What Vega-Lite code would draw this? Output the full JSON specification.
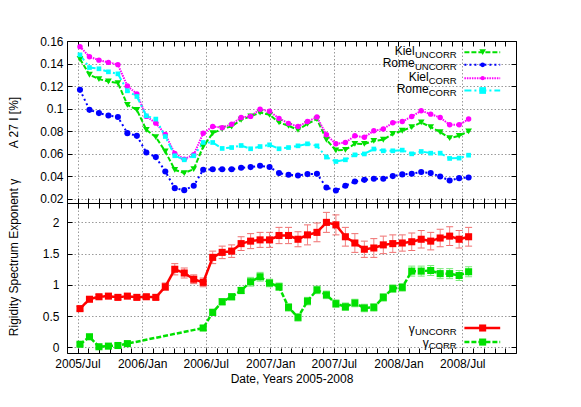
{
  "$schema": "https://vega.github.io/schema/vega-lite/v6.json",
  "background": "white",
  "padding": {"left": 6, "top": 35, "right": 5, "bottom": 5},
  "spacing": 0,
  "bounds": "flush",
  "resolve": {"scale": {"color": "independent", "strokeDash": "independent", "shape": "independent", "size": "independent"}},
  "config": {
    "view": {"stroke": null},
    "font": "Liberation Sans",
    "axis": {
      "labelFont": "Liberation Sans", "titleFont": "Liberation Sans",
      "labelFontSize": 12, "titleFontSize": 12, "titleFontWeight": "normal",
      "labelColor": "black", "titleColor": "black",
      "domainColor": "black", "tickColor": "black", "tickSize": -5,
      "gridColor": "#9a9a9a", "gridDash": [1.5, 2], "gridWidth": 1
    }
  },
  "datasets": {
    "top": [
      {"d":"2005-07-08","s":"KielU","v":0.144},{"d":"2005-08-04","s":"KielU","v":0.130},{"d":"2005-08-31","s":"KielU","v":0.1261},{"d":"2005-09-27","s":"KielU","v":0.124},{"d":"2005-10-24","s":"KielU","v":0.1226},{"d":"2005-11-20","s":"KielU","v":0.1033},{"d":"2005-12-17","s":"KielU","v":0.0988},{"d":"2006-01-13","s":"KielU","v":0.081},{"d":"2006-02-09","s":"KielU","v":0.0746},{"d":"2006-03-08","s":"KielU","v":0.0618},{"d":"2006-04-04","s":"KielU","v":0.0455},{"d":"2006-05-01","s":"KielU","v":0.0426},{"d":"2006-05-28","s":"KielU","v":0.0461},{"d":"2006-06-24","s":"KielU","v":0.0662},{"d":"2006-07-21","s":"KielU","v":0.078},{"d":"2006-08-17","s":"KielU","v":0.082},{"d":"2006-09-13","s":"KielU","v":0.084},{"d":"2006-10-10","s":"KielU","v":0.090},{"d":"2006-11-06","s":"KielU","v":0.093},{"d":"2006-12-03","s":"KielU","v":0.0964},{"d":"2006-12-30","s":"KielU","v":0.0944},{"d":"2007-01-26","s":"KielU","v":0.0876},{"d":"2007-02-22","s":"KielU","v":0.0846},{"d":"2007-03-21","s":"KielU","v":0.081},{"d":"2007-04-17","s":"KielU","v":0.0864},{"d":"2007-05-14","s":"KielU","v":0.0906},{"d":"2007-06-10","s":"KielU","v":0.0722},{"d":"2007-07-07","s":"KielU","v":0.0627},{"d":"2007-08-03","s":"KielU","v":0.0633},{"d":"2007-08-30","s":"KielU","v":0.0686},{"d":"2007-09-26","s":"KielU","v":0.0685},{"d":"2007-10-23","s":"KielU","v":0.0712},{"d":"2007-11-19","s":"KielU","v":0.0722},{"d":"2007-12-16","s":"KielU","v":0.0775},{"d":"2008-01-12","s":"KielU","v":0.0802},{"d":"2008-02-08","s":"KielU","v":0.0835},{"d":"2008-03-06","s":"KielU","v":0.0876},{"d":"2008-04-02","s":"KielU","v":0.0835},{"d":"2008-04-29","s":"KielU","v":0.079},{"d":"2008-05-26","s":"KielU","v":0.0737},{"d":"2008-06-22","s":"KielU","v":0.0757},{"d":"2008-07-19","s":"KielU","v":0.0797},
      {"d":"2005-07-08","s":"RomeU","v":0.1166},{"d":"2005-08-04","s":"RomeU","v":0.0988},{"d":"2005-08-31","s":"RomeU","v":0.0959},{"d":"2005-09-27","s":"RomeU","v":0.0938},{"d":"2005-10-24","s":"RomeU","v":0.0924},{"d":"2005-11-20","s":"RomeU","v":0.0781},{"d":"2005-12-17","s":"RomeU","v":0.0757},{"d":"2006-01-13","s":"RomeU","v":0.0609},{"d":"2006-02-09","s":"RomeU","v":0.0568},{"d":"2006-03-08","s":"RomeU","v":0.044},{"d":"2006-04-04","s":"RomeU","v":0.0292},{"d":"2006-05-01","s":"RomeU","v":0.0274},{"d":"2006-05-28","s":"RomeU","v":0.0313},{"d":"2006-06-24","s":"RomeU","v":0.0455},{"d":"2006-07-21","s":"RomeU","v":0.046},{"d":"2006-08-17","s":"RomeU","v":0.046},{"d":"2006-09-13","s":"RomeU","v":0.046},{"d":"2006-10-10","s":"RomeU","v":0.0473},{"d":"2006-11-06","s":"RomeU","v":0.0479},{"d":"2006-12-03","s":"RomeU","v":0.0491},{"d":"2006-12-30","s":"RomeU","v":0.048},{"d":"2007-01-26","s":"RomeU","v":0.0426},{"d":"2007-02-22","s":"RomeU","v":0.0411},{"d":"2007-03-21","s":"RomeU","v":0.0405},{"d":"2007-04-17","s":"RomeU","v":0.0417},{"d":"2007-05-14","s":"RomeU","v":0.042},{"d":"2007-06-10","s":"RomeU","v":0.0298},{"d":"2007-07-07","s":"RomeU","v":0.0271},{"d":"2007-08-03","s":"RomeU","v":0.0313},{"d":"2007-08-30","s":"RomeU","v":0.0351},{"d":"2007-09-26","s":"RomeU","v":0.0366},{"d":"2007-10-23","s":"RomeU","v":0.0375},{"d":"2007-11-19","s":"RomeU","v":0.0375},{"d":"2007-12-16","s":"RomeU","v":0.0399},{"d":"2008-01-12","s":"RomeU","v":0.0414},{"d":"2008-02-08","s":"RomeU","v":0.042},{"d":"2008-03-06","s":"RomeU","v":0.0435},{"d":"2008-04-02","s":"RomeU","v":0.0426},{"d":"2008-04-29","s":"RomeU","v":0.0396},{"d":"2008-05-26","s":"RomeU","v":0.036},{"d":"2008-06-22","s":"RomeU","v":0.0381},{"d":"2008-07-19","s":"RomeU","v":0.0387},
      {"d":"2005-07-08","s":"KielC","v":0.155},{"d":"2005-08-04","s":"KielC","v":0.146},{"d":"2005-08-31","s":"KielC","v":0.143},{"d":"2005-09-27","s":"KielC","v":0.141},{"d":"2005-10-24","s":"KielC","v":0.139},{"d":"2005-11-20","s":"KielC","v":0.120},{"d":"2005-12-17","s":"KielC","v":0.113},{"d":"2006-01-13","s":"KielC","v":0.093},{"d":"2006-02-09","s":"KielC","v":0.087},{"d":"2006-03-08","s":"KielC","v":0.077},{"d":"2006-04-04","s":"KielC","v":0.060},{"d":"2006-05-01","s":"KielC","v":0.055},{"d":"2006-05-28","s":"KielC","v":0.059},{"d":"2006-06-24","s":"KielC","v":0.078},{"d":"2006-07-21","s":"KielC","v":0.084},{"d":"2006-08-17","s":"KielC","v":0.083},{"d":"2006-09-13","s":"KielC","v":0.086},{"d":"2006-10-10","s":"KielC","v":0.092},{"d":"2006-11-06","s":"KielC","v":0.093},{"d":"2006-12-03","s":"KielC","v":0.0994},{"d":"2006-12-30","s":"KielC","v":0.0975},{"d":"2007-01-26","s":"KielC","v":0.0912},{"d":"2007-02-22","s":"KielC","v":0.0868},{"d":"2007-03-21","s":"KielC","v":0.084},{"d":"2007-04-17","s":"KielC","v":0.0884},{"d":"2007-05-14","s":"KielC","v":0.0924},{"d":"2007-06-10","s":"KielC","v":0.0766},{"d":"2007-07-07","s":"KielC","v":0.0686},{"d":"2007-08-03","s":"KielC","v":0.0698},{"d":"2007-08-30","s":"KielC","v":0.0757},{"d":"2007-09-26","s":"KielC","v":0.0745},{"d":"2007-10-23","s":"KielC","v":0.0802},{"d":"2007-11-19","s":"KielC","v":0.0818},{"d":"2007-12-16","s":"KielC","v":0.0873},{"d":"2008-01-12","s":"KielC","v":0.0884},{"d":"2008-02-08","s":"KielC","v":0.0929},{"d":"2008-03-06","s":"KielC","v":0.098},{"d":"2008-04-02","s":"KielC","v":0.095},{"d":"2008-04-29","s":"KielC","v":0.092},{"d":"2008-05-26","s":"KielC","v":0.0855},{"d":"2008-06-22","s":"KielC","v":0.0855},{"d":"2008-07-19","s":"KielC","v":0.0906},
      {"d":"2005-07-08","s":"RomeC","v":0.1477},{"d":"2005-08-04","s":"RomeC","v":0.1364},{"d":"2005-08-31","s":"RomeC","v":0.1353},{"d":"2005-09-27","s":"RomeC","v":0.1326},{"d":"2005-10-24","s":"RomeC","v":0.1308},{"d":"2005-11-20","s":"RomeC","v":0.1157},{"d":"2005-12-17","s":"RomeC","v":0.1107},{"d":"2006-01-13","s":"RomeC","v":0.0935},{"d":"2006-02-09","s":"RomeC","v":0.0906},{"d":"2006-03-08","s":"RomeC","v":0.0751},{"d":"2006-04-04","s":"RomeC","v":0.058},{"d":"2006-05-01","s":"RomeC","v":0.0544},{"d":"2006-05-28","s":"RomeC","v":0.058},{"d":"2006-06-24","s":"RomeC","v":0.0698},{"d":"2006-07-21","s":"RomeC","v":0.0698},{"d":"2006-08-17","s":"RomeC","v":0.0645},{"d":"2006-09-13","s":"RomeC","v":0.0653},{"d":"2006-10-10","s":"RomeC","v":0.0671},{"d":"2006-11-06","s":"RomeC","v":0.0642},{"d":"2006-12-03","s":"RomeC","v":0.0662},{"d":"2006-12-30","s":"RomeC","v":0.0677},{"d":"2007-01-26","s":"RomeC","v":0.0642},{"d":"2007-02-22","s":"RomeC","v":0.0653},{"d":"2007-03-21","s":"RomeC","v":0.0668},{"d":"2007-04-17","s":"RomeC","v":0.0686},{"d":"2007-05-14","s":"RomeC","v":0.0668},{"d":"2007-06-10","s":"RomeC","v":0.0568},{"d":"2007-07-07","s":"RomeC","v":0.0529},{"d":"2007-08-03","s":"RomeC","v":0.0544},{"d":"2007-08-30","s":"RomeC","v":0.0588},{"d":"2007-09-26","s":"RomeC","v":0.0596},{"d":"2007-10-23","s":"RomeC","v":0.064},{"d":"2007-11-19","s":"RomeC","v":0.0624},{"d":"2007-12-16","s":"RomeC","v":0.0624},{"d":"2008-01-12","s":"RomeC","v":0.063},{"d":"2008-02-08","s":"RomeC","v":0.0597},{"d":"2008-03-06","s":"RomeC","v":0.0618},{"d":"2008-04-02","s":"RomeC","v":0.0603},{"d":"2008-04-29","s":"RomeC","v":0.0603},{"d":"2008-05-26","s":"RomeC","v":0.0556},{"d":"2008-06-22","s":"RomeC","v":0.0559},{"d":"2008-07-19","s":"RomeC","v":0.0585}
    ],
    "bot": [
      {"d":"2005-07-08","s":"gU","v":0.62,"e":0.035},{"d":"2005-08-04","s":"gU","v":0.77,"e":0.035},{"d":"2005-08-31","s":"gU","v":0.81,"e":0.035},{"d":"2005-09-27","s":"gU","v":0.82,"e":0.035},{"d":"2005-10-24","s":"gU","v":0.80,"e":0.035},{"d":"2005-11-20","s":"gU","v":0.82,"e":0.035},{"d":"2005-12-17","s":"gU","v":0.80,"e":0.035},{"d":"2006-01-13","s":"gU","v":0.81,"e":0.035},{"d":"2006-02-09","s":"gU","v":0.80,"e":0.035},{"d":"2006-03-08","s":"gU","v":0.97,"e":0.06},{"d":"2006-04-04","s":"gU","v":1.25,"e":0.09},{"d":"2006-05-01","s":"gU","v":1.19,"e":0.08},{"d":"2006-05-28","s":"gU","v":1.09,"e":0.07},{"d":"2006-06-24","s":"gU","v":1.04,"e":0.07},{"d":"2006-07-21","s":"gU","v":1.44,"e":0.10},{"d":"2006-08-17","s":"gU","v":1.52,"e":0.10},{"d":"2006-09-13","s":"gU","v":1.54,"e":0.10},{"d":"2006-10-10","s":"gU","v":1.66,"e":0.11},{"d":"2006-11-06","s":"gU","v":1.70,"e":0.12},{"d":"2006-12-03","s":"gU","v":1.72,"e":0.12},{"d":"2006-12-30","s":"gU","v":1.72,"e":0.12},{"d":"2007-01-26","s":"gU","v":1.79,"e":0.13},{"d":"2007-02-22","s":"gU","v":1.79,"e":0.13},{"d":"2007-03-21","s":"gU","v":1.73,"e":0.12},{"d":"2007-04-17","s":"gU","v":1.80,"e":0.16},{"d":"2007-05-14","s":"gU","v":1.84,"e":0.15},{"d":"2007-06-10","s":"gU","v":2.00,"e":0.16},{"d":"2007-07-07","s":"gU","v":1.96,"e":0.16},{"d":"2007-08-03","s":"gU","v":1.77,"e":0.15},{"d":"2007-08-30","s":"gU","v":1.67,"e":0.15},{"d":"2007-09-26","s":"gU","v":1.57,"e":0.13},{"d":"2007-10-23","s":"gU","v":1.59,"e":0.15},{"d":"2007-11-19","s":"gU","v":1.64,"e":0.14},{"d":"2007-12-16","s":"gU","v":1.66,"e":0.14},{"d":"2008-01-12","s":"gU","v":1.67,"e":0.13},{"d":"2008-02-08","s":"gU","v":1.69,"e":0.14},{"d":"2008-03-06","s":"gU","v":1.73,"e":0.14},{"d":"2008-04-02","s":"gU","v":1.70,"e":0.14},{"d":"2008-04-29","s":"gU","v":1.75,"e":0.14},{"d":"2008-05-26","s":"gU","v":1.78,"e":0.15},{"d":"2008-06-22","s":"gU","v":1.73,"e":0.14},{"d":"2008-07-19","s":"gU","v":1.77,"e":0.15},
      {"d":"2005-07-08","s":"gC","v":0.05,"e":0.025},{"d":"2005-08-04","s":"gC","v":0.17,"e":0.025},{"d":"2005-08-31","s":"gC","v":0.01,"e":0.025},{"d":"2005-09-27","s":"gC","v":0.02,"e":0.025},{"d":"2005-10-24","s":"gC","v":0.03,"e":0.025},{"d":"2005-11-20","s":"gC","v":0.06,"e":0.025},{"d":"2006-06-24","s":"gC","v":0.31,"e":0.04},{"d":"2006-07-21","s":"gC","v":0.56,"e":0.05},{"d":"2006-08-17","s":"gC","v":0.73,"e":0.05},{"d":"2006-09-13","s":"gC","v":0.81,"e":0.05},{"d":"2006-10-10","s":"gC","v":0.91,"e":0.05},{"d":"2006-11-06","s":"gC","v":1.05,"e":0.07},{"d":"2006-12-03","s":"gC","v":1.13,"e":0.07},{"d":"2006-12-30","s":"gC","v":1.03,"e":0.06},{"d":"2007-01-26","s":"gC","v":0.97,"e":0.06},{"d":"2007-02-22","s":"gC","v":0.64,"e":0.06},{"d":"2007-03-21","s":"gC","v":0.48,"e":0.06},{"d":"2007-04-17","s":"gC","v":0.74,"e":0.06},{"d":"2007-05-14","s":"gC","v":0.92,"e":0.06},{"d":"2007-06-10","s":"gC","v":0.84,"e":0.06},{"d":"2007-07-07","s":"gC","v":0.70,"e":0.06},{"d":"2007-08-03","s":"gC","v":0.65,"e":0.06},{"d":"2007-08-30","s":"gC","v":0.71,"e":0.06},{"d":"2007-09-26","s":"gC","v":0.63,"e":0.06},{"d":"2007-10-23","s":"gC","v":0.64,"e":0.06},{"d":"2007-11-19","s":"gC","v":0.80,"e":0.06},{"d":"2007-12-16","s":"gC","v":0.94,"e":0.06},{"d":"2008-01-12","s":"gC","v":0.96,"e":0.06},{"d":"2008-02-08","s":"gC","v":1.22,"e":0.08},{"d":"2008-03-06","s":"gC","v":1.22,"e":0.08},{"d":"2008-04-02","s":"gC","v":1.23,"e":0.08},{"d":"2008-04-29","s":"gC","v":1.18,"e":0.08},{"d":"2008-05-26","s":"gC","v":1.18,"e":0.08},{"d":"2008-06-22","s":"gC","v":1.15,"e":0.08},{"d":"2008-07-19","s":"gC","v":1.21,"e":0.08}
    ]
  },
  "vconcat": [
    {
      "width": 449, "height": 162,
      "data": {"name": "top"},
      "layer": [
        {
          "mark": {"type": "line", "strokeWidth": 2},
          "encoding": {
            "x": {"field": "d", "type": "temporal",
              "scale": {"domain": [{"year": 2005, "month": 6, "date": 1}, {"year": 2008, "month": 12, "date": 1}]},
              "axis": {"orient": "bottom", "labels": false, "title": null, "grid": true,
                "tickCount": {"interval": "month", "step": 1},
                "gridOpacity": {"condition": {"test": "month(datum.value) % 6 == 0", "value": 1}, "value": 0}}},
            "y": {"field": "v", "type": "quantitative",
              "scale": {"domain": [0.016, 0.16], "nice": false, "zero": false},
              "axis": {"orient": "left", "values": [0.02, 0.04, 0.06, 0.08, 0.1, 0.12, 0.14, 0.16], "format": ".2~f",
                "grid": true, "labelPadding": 9, "title": "A 27 I [%]", "titleX": -54, "titleBaseline": "middle"}},
            "color": {"field": "s", "type": "nominal", "legend": null,
              "scale": {"domain": ["KielU", "RomeU", "KielC", "RomeC"], "range": ["#00e000", "#0000ff", "#ff00ff", "#00ffff"]}},
            "strokeDash": {"field": "s", "type": "nominal", "legend": null,
              "scale": {"domain": ["KielU", "RomeU", "KielC", "RomeC"], "range": [[5, 2], [2, 3], [1.5, 1], [7, 3, 2, 3]]}}
          }
        },
        {
          "mark": {"type": "point", "filled": true, "opacity": 1},
          "encoding": {
            "x": {"field": "d", "type": "temporal",
              "axis": {"orient": "top", "labels": false, "title": null, "grid": false, "tickCount": {"interval": "month", "step": 1}}},
            "y": {"field": "v", "type": "quantitative",
              "axis": {"orient": "right", "labels": false, "title": null, "grid": false, "values": [0.02, 0.04, 0.06, 0.08, 0.1, 0.12, 0.14, 0.16]}},
            "color": {"field": "s", "type": "nominal", "legend": null},
            "shape": {"field": "s", "type": "nominal", "legend": null,
              "scale": {"domain": ["KielU", "RomeU", "KielC", "RomeC"], "range": ["triangle-down", "circle", "circle", "square"]}},
            "size": {"field": "s", "type": "ordinal", "legend": null,
              "scale": {"domain": ["KielU", "RomeU", "KielC", "RomeC"], "range": [45, 22, 18, 45]}}
          }
        },
        {"data": {"values": [{"t": "Kiel", "u": "UNCORR"}]}, "mark": {"type": "text", "align": "right", "baseline": "middle", "dx": -42, "dy": -1.5, "fontSize": 12},
         "encoding": {"x": {"datum": {"year": 2008, "month": 6, "date": 15}, "type": "temporal", "axis": null}, "y": {"datum": 0.1501, "type": "quantitative", "axis": null}, "text": {"field": "t"}}},
        {"data": {"values": [{"t": "Kiel", "u": "UNCORR"}]}, "mark": {"type": "text", "align": "right", "baseline": "middle", "dy": 2.5, "fontSize": 9.5},
         "encoding": {"x": {"datum": {"year": 2008, "month": 6, "date": 15}, "type": "temporal", "axis": null}, "y": {"datum": 0.1501, "type": "quantitative", "axis": null}, "text": {"field": "u"}}},
        {"data": {"values": [{"t": "Rome", "u": "UNCORR"}]}, "mark": {"type": "text", "align": "right", "baseline": "middle", "dx": -42, "dy": -1.5, "fontSize": 12},
         "encoding": {"x": {"datum": {"year": 2008, "month": 6, "date": 15}, "type": "temporal", "axis": null}, "y": {"datum": 0.1388, "type": "quantitative", "axis": null}, "text": {"field": "t"}}},
        {"data": {"values": [{"t": "Rome", "u": "UNCORR"}]}, "mark": {"type": "text", "align": "right", "baseline": "middle", "dy": 2.5, "fontSize": 9.5},
         "encoding": {"x": {"datum": {"year": 2008, "month": 6, "date": 15}, "type": "temporal", "axis": null}, "y": {"datum": 0.1388, "type": "quantitative", "axis": null}, "text": {"field": "u"}}},
        {"data": {"values": [{"t": "Kiel", "u": "CORR"}]}, "mark": {"type": "text", "align": "right", "baseline": "middle", "dx": -28, "dy": -1.5, "fontSize": 12},
         "encoding": {"x": {"datum": {"year": 2008, "month": 6, "date": 15}, "type": "temporal", "axis": null}, "y": {"datum": 0.1270, "type": "quantitative", "axis": null}, "text": {"field": "t"}}},
        {"data": {"values": [{"t": "Kiel", "u": "CORR"}]}, "mark": {"type": "text", "align": "right", "baseline": "middle", "dy": 2.5, "fontSize": 9.5},
         "encoding": {"x": {"datum": {"year": 2008, "month": 6, "date": 15}, "type": "temporal", "axis": null}, "y": {"datum": 0.1270, "type": "quantitative", "axis": null}, "text": {"field": "u"}}},
        {"data": {"values": [{"t": "Rome", "u": "CORR"}]}, "mark": {"type": "text", "align": "right", "baseline": "middle", "dx": -28, "dy": -1.5, "fontSize": 12},
         "encoding": {"x": {"datum": {"year": 2008, "month": 6, "date": 15}, "type": "temporal", "axis": null}, "y": {"datum": 0.1160, "type": "quantitative", "axis": null}, "text": {"field": "t"}}},
        {"data": {"values": [{"t": "Rome", "u": "CORR"}]}, "mark": {"type": "text", "align": "right", "baseline": "middle", "dy": 2.5, "fontSize": 9.5},
         "encoding": {"x": {"datum": {"year": 2008, "month": 6, "date": 15}, "type": "temporal", "axis": null}, "y": {"datum": 0.1160, "type": "quantitative", "axis": null}, "text": {"field": "u"}}},
        {"data": {"values": [{"s": "KielU"}]}, "mark": {"type": "rule", "color": "#00e000", "strokeWidth": 2, "strokeDash": [5, 2]},
         "encoding": {"x": {"datum": {"year": 2008, "month": 7, "date": 7}, "type": "temporal", "axis": null}, "x2": {"datum": {"year": 2008, "month": 10, "date": 17}}, "y": {"datum": 0.1501, "type": "quantitative", "axis": null}}},
        {"data": {"values": [{"s": "KielU"}]}, "mark": {"type": "point", "filled": true, "opacity": 1, "color": "#00e000", "shape": "triangle-down", "size": 45},
         "encoding": {"x": {"datum": {"year": 2008, "month": 8, "date": 28}, "type": "temporal", "axis": null}, "y": {"datum": 0.1501, "type": "quantitative", "axis": null}}},
        {"data": {"values": [{"s": "RomeU"}]}, "mark": {"type": "rule", "color": "#0000ff", "strokeWidth": 2, "strokeDash": [2, 3]},
         "encoding": {"x": {"datum": {"year": 2008, "month": 7, "date": 7}, "type": "temporal", "axis": null}, "x2": {"datum": {"year": 2008, "month": 10, "date": 17}}, "y": {"datum": 0.1388, "type": "quantitative", "axis": null}}},
        {"data": {"values": [{"s": "RomeU"}]}, "mark": {"type": "point", "filled": true, "opacity": 1, "color": "#0000ff", "shape": "circle", "size": 22},
         "encoding": {"x": {"datum": {"year": 2008, "month": 8, "date": 28}, "type": "temporal", "axis": null}, "y": {"datum": 0.1388, "type": "quantitative", "axis": null}}},
        {"data": {"values": [{"s": "KielC"}]}, "mark": {"type": "rule", "color": "#ff00ff", "strokeWidth": 2, "strokeDash": [1.5, 1]},
         "encoding": {"x": {"datum": {"year": 2008, "month": 7, "date": 7}, "type": "temporal", "axis": null}, "x2": {"datum": {"year": 2008, "month": 10, "date": 17}}, "y": {"datum": 0.1270, "type": "quantitative", "axis": null}}},
        {"data": {"values": [{"s": "KielC"}]}, "mark": {"type": "point", "filled": true, "opacity": 1, "color": "#ff00ff", "shape": "circle", "size": 18},
         "encoding": {"x": {"datum": {"year": 2008, "month": 8, "date": 28}, "type": "temporal", "axis": null}, "y": {"datum": 0.1270, "type": "quantitative", "axis": null}}},
        {"data": {"values": [{"s": "RomeC"}]}, "mark": {"type": "rule", "color": "#00ffff", "strokeWidth": 2, "strokeDash": [7, 3, 2, 3]},
         "encoding": {"x": {"datum": {"year": 2008, "month": 7, "date": 7}, "type": "temporal", "axis": null}, "x2": {"datum": {"year": 2008, "month": 10, "date": 17}}, "y": {"datum": 0.1160, "type": "quantitative", "axis": null}}},
        {"data": {"values": [{"s": "RomeC"}]}, "mark": {"type": "point", "filled": true, "opacity": 1, "color": "#00ffff", "shape": "square", "size": 45},
         "encoding": {"x": {"datum": {"year": 2008, "month": 8, "date": 28}, "type": "temporal", "axis": null}, "y": {"datum": 0.1160, "type": "quantitative", "axis": null}}}
      ],
      "resolve": {"axis": {"x": "independent", "y": "independent"}}
    },
    {
      "width": 449, "height": 150,
      "data": {"name": "bot"},
      "layer": [
        {
          "transform": [{"filter": "datum.s == 'gC'"}],
          "mark": {"type": "errorbar", "ticks": {"size": 7, "color": "#40e040"}, "rule": {"color": "#80f080", "strokeWidth": 1}},
          "encoding": {
            "x": {"field": "d", "type": "temporal", "axis": null},
            "y": {"field": "v", "type": "quantitative", "axis": null},
            "yError": {"field": "e"}
          }
        },
        {
          "transform": [{"filter": "datum.s == 'gU'"}],
          "mark": {"type": "errorbar", "ticks": {"size": 7, "color": "#e83030"}, "rule": {"color": "#f48080", "strokeWidth": 1}},
          "encoding": {
            "x": {"field": "d", "type": "temporal", "axis": null},
            "y": {"field": "v", "type": "quantitative", "axis": null},
            "yError": {"field": "e"}
          }
        },
        {
          "mark": {"type": "line", "strokeWidth": 2.5},
          "encoding": {
            "x": {"field": "d", "type": "temporal",
              "scale": {"domain": [{"year": 2005, "month": 6, "date": 1}, {"year": 2008, "month": 12, "date": 1}]},
              "axis": {"orient": "bottom", "title": "Date, Years 2005-2008", "grid": true,
                "tickCount": {"interval": "month", "step": 1}, "labelFlush": false, "labelOverlap": false,
                "labelPadding": 10, "titlePadding": 4,
                "labelExpr": "month(datum.value) % 6 == 0 ? timeFormat(datum.value, '%Y/%b') : ''",
                "gridOpacity": {"condition": {"test": "month(datum.value) % 6 == 0", "value": 1}, "value": 0}}},
            "y": {"field": "v", "type": "quantitative",
              "scale": {"domain": [-0.09, 2.31], "nice": false, "zero": false},
              "axis": {"orient": "left", "values": [0, 0.5, 1, 1.5, 2], "format": "~g", "grid": true,
                "labelPadding": 13, "title": "Rigidity Spectrum Exponent γ", "titleX": -54, "titleY": 54, "titleBaseline": "middle"}},
            "color": {"field": "s", "type": "nominal", "legend": null,
              "scale": {"domain": ["gU", "gC"], "range": ["#ff0000", "#00e000"]}},
            "strokeDash": {"field": "s", "type": "nominal", "legend": null,
              "scale": {"domain": ["gU", "gC"], "range": [[1, 0], [5, 2]]}}
          }
        },
        {
          "mark": {"type": "square", "opacity": 1, "size": 50},
          "encoding": {
            "x": {"field": "d", "type": "temporal",
              "axis": {"orient": "top", "labels": false, "title": null, "grid": false, "tickCount": {"interval": "month", "step": 1}}},
            "y": {"field": "v", "type": "quantitative",
              "axis": {"orient": "right", "labels": false, "title": null, "grid": false, "values": [0, 0.5, 1, 1.5, 2]}},
            "color": {"field": "s", "type": "nominal", "legend": null}
          }
        },
        {"data": {"values": [{"t": "γ", "u": "UNCORR"}]}, "mark": {"type": "text", "align": "right", "baseline": "middle", "dx": -42, "dy": 1, "fontSize": 12},
         "encoding": {"x": {"datum": {"year": 2008, "month": 6, "date": 15}, "type": "temporal", "axis": null}, "y": {"datum": 0.31, "type": "quantitative", "axis": null}, "text": {"field": "t"}}},
        {"data": {"values": [{"t": "γ", "u": "UNCORR"}]}, "mark": {"type": "text", "align": "right", "baseline": "middle", "dy": 4, "fontSize": 9.5},
         "encoding": {"x": {"datum": {"year": 2008, "month": 6, "date": 15}, "type": "temporal", "axis": null}, "y": {"datum": 0.31, "type": "quantitative", "axis": null}, "text": {"field": "u"}}},
        {"data": {"values": [{"t": "γ", "u": "CORR"}]}, "mark": {"type": "text", "align": "right", "baseline": "middle", "dx": -28, "dy": 1, "fontSize": 12},
         "encoding": {"x": {"datum": {"year": 2008, "month": 6, "date": 15}, "type": "temporal", "axis": null}, "y": {"datum": 0.085, "type": "quantitative", "axis": null}, "text": {"field": "t"}}},
        {"data": {"values": [{"t": "γ", "u": "CORR"}]}, "mark": {"type": "text", "align": "right", "baseline": "middle", "dy": 4, "fontSize": 9.5},
         "encoding": {"x": {"datum": {"year": 2008, "month": 6, "date": 15}, "type": "temporal", "axis": null}, "y": {"datum": 0.085, "type": "quantitative", "axis": null}, "text": {"field": "u"}}},
        {"data": {"values": [{"s": "gU"}]}, "mark": {"type": "rule", "color": "#ff0000", "strokeWidth": 2.5},
         "encoding": {"x": {"datum": {"year": 2008, "month": 7, "date": 7}, "type": "temporal", "axis": null}, "x2": {"datum": {"year": 2008, "month": 10, "date": 17}}, "y": {"datum": 0.31, "type": "quantitative", "axis": null}}},
        {"data": {"values": [{"s": "gU"}]}, "mark": {"type": "square", "opacity": 1, "color": "#ff0000", "size": 50},
         "encoding": {"x": {"datum": {"year": 2008, "month": 8, "date": 28}, "type": "temporal", "axis": null}, "y": {"datum": 0.31, "type": "quantitative", "axis": null}}},
        {"data": {"values": [{"s": "gC"}]}, "mark": {"type": "rule", "color": "#00e000", "strokeWidth": 2.5, "strokeDash": [5, 2]},
         "encoding": {"x": {"datum": {"year": 2008, "month": 7, "date": 7}, "type": "temporal", "axis": null}, "x2": {"datum": {"year": 2008, "month": 10, "date": 17}}, "y": {"datum": 0.085, "type": "quantitative", "axis": null}}},
        {"data": {"values": [{"s": "gC"}]}, "mark": {"type": "square", "opacity": 1, "color": "#00e000", "size": 50},
         "encoding": {"x": {"datum": {"year": 2008, "month": 8, "date": 28}, "type": "temporal", "axis": null}, "y": {"datum": 0.085, "type": "quantitative", "axis": null}}}
      ],
      "resolve": {"axis": {"x": "independent", "y": "independent"}}
    }
  ]
}
